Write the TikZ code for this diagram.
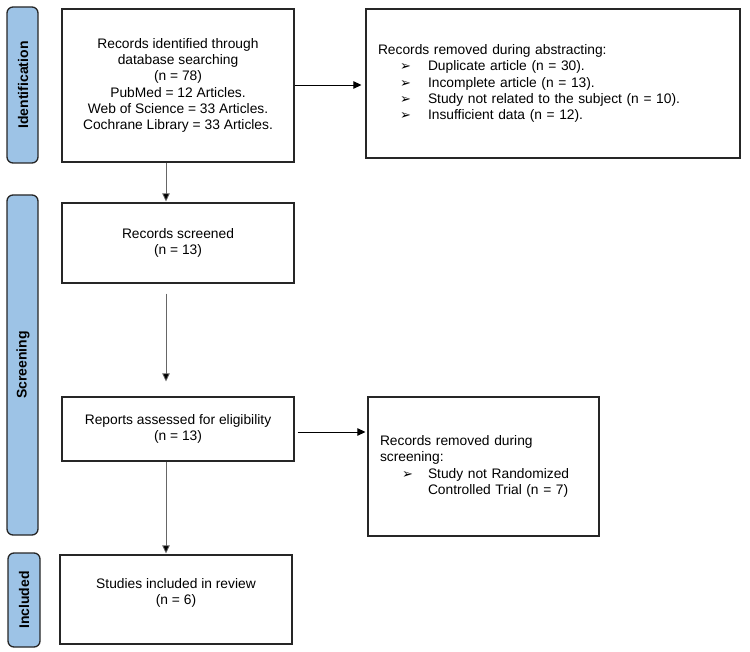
\documentclass[tikz,border=0pt]{standalone}
\usepackage{fontspec}
\setmainfont{Liberation Sans}
\newfontfamily\dejavu{DejaVu Sans}
\usetikzlibrary{arrows.meta,calc}
\definecolor{phasefill}{RGB}{157,195,230}
\definecolor{edgecol}{RGB}{38,38,38}
\newcommand{\bul}{{\dejavu\fontsize{13}{12}\selectfont ➢}}
\tikzset{
  phase/.style={draw=edgecol,line width=1.3pt,fill=phasefill,rounded corners=6pt,inner sep=0pt},
  plabel/.style={rotate=90,font=\fontsize{14}{16}\selectfont\bfseries,inner sep=0pt},
  box/.style={draw=edgecol,line width=1.2pt,inner sep=0pt,font=\fontsize{13.8}{16.3}\selectfont},
  conn/.style={-{Triangle[length=8pt,width=7.5pt]},line width=0.8pt},
  vconn/.style={conn,draw=black!60,-{Triangle[length=8pt,width=7.5pt,fill=black]}},
}
\begin{document}
\begin{tikzpicture}[x=1pt,y=-1pt]
\useasboundingbox (0,0) rectangle (750,652);
% phase bars
\draw[phase] (7,7) rectangle (38,163);
\node[plabel] (lid) at (23,85) {Identification};
\draw[phase] (7,195) rectangle (38,535);
\node[plabel] (lsc) at (23,365) {Screening};
\draw[phase] (8,553) rectangle (40,647);
\node[plabel] (lin) at (24,600) {Included};
% boxes
\node[box,minimum width=232pt,minimum height=153pt,align=center] (ident) at (178,85.5)
 {Records identified through\\database searching\\(n = 78)\\PubMed = 12 Articles.\\Web of Science = 33 Articles.\\Cochrane Library = 33 Articles.};
\node[box,minimum width=374pt,minimum height=149pt,text width=350pt,align=left] (remab) at (553,83.5)
 {Records removed during abstracting:\\
  \hspace*{22pt}\makebox[28pt][l]{\bul}Duplicate article (n = 30).\\
  \hspace*{22pt}\makebox[28pt][l]{\bul}Incomplete article (n = 13).\\
  \hspace*{22pt}\makebox[28pt][l]{\bul}Study not related to the subject (n = 10).\\
  \hspace*{22pt}\makebox[28pt][l]{\bul}Insufficient data (n = 12).};
\node[box,minimum width=232pt,minimum height=80pt,align=center] (scr) at (178,243)
 {Records screened\\(n = 13)};
\node[box,minimum width=232pt,minimum height=64pt,align=center] (rep) at (178,429)
 {Reports assessed for eligibility\\(n = 13)};
\node[box,minimum width=231pt,minimum height=139pt,text width=207pt,align=left] (remsc) at (483.5,466.5)
 {Records removed during\\screening:\\
  \hspace*{22pt}\makebox[26pt][l]{\bul}Study not Randomized\\
  \hspace*{48pt}Controlled Trial (n = 7)};
\node[box,minimum width=232pt,minimum height=89pt] (inc) at (176,599.5) {};
\node[font=\fontsize{13.8}{16.3}\selectfont,align=center,inner sep=0pt] (inct) at (176,593)
 {Studies included in review\\(n = 6)};
% connectors
\coordinate (ax) at (166,0);
\draw[conn] (ident.east |- 0,85) -- ($(remab.west |- 0,85)+(-4,0)$);
\draw[vconn] (ident.south -| ax) -- ($(scr.north -| ax)+(0,-1)$);
\draw[vconn] ($(scr.south -| ax)+(0,10)$) -- ($(rep.north -| ax)+(0,-15)$);
\draw[conn] ($(rep.east |- 0,432)+(3,0)$) -- ($(remsc.west |- 0,432)+(-2,0)$);
\draw[vconn] (rep.south -| ax) -- ($(inc.north -| ax)+(0,-1)$);
\end{tikzpicture}
\end{document}
